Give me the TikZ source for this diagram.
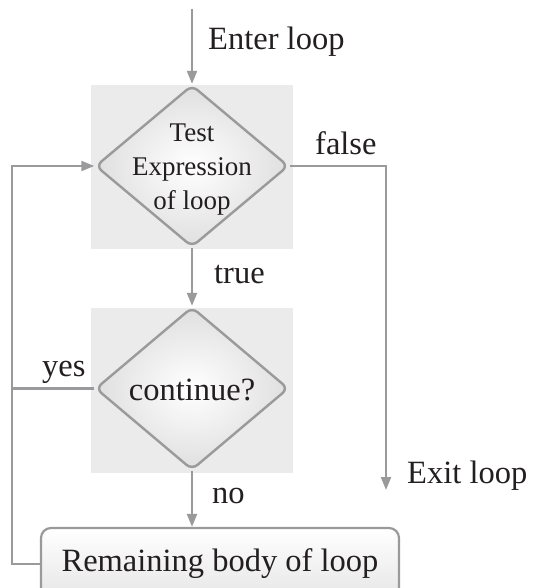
\documentclass[tikz,border=0pt]{standalone}
\usepackage{fontspec}
\setmainfont{Liberation Serif}
\usetikzlibrary{shapes.geometric,arrows.meta}
\definecolor{linegray}{HTML}{9A9A9C}
\definecolor{bggray}{HTML}{EBEBEB}
\definecolor{txt}{HTML}{231F20}
\begin{document}
\begin{tikzpicture}[x=1pt,y=-1pt,
  conn/.style={draw=linegray,line width=2.2pt},
  arr/.style={conn,-{Triangle[length=13pt,width=10pt]}},
  bgbox/.style={fill=bggray,draw=none,minimum width=202pt,minimum height=164pt,inner sep=0pt},
  dia/.style={diamond,draw=linegray,line width=2.4pt,rounded corners=7pt,inner sep=0pt,
    minimum width=193pt,minimum height=162pt,inner color=white,outer color=gray!25},
  lbl/.style={text=txt,font=\fontsize{32.5}{38}\selectfont,inner sep=0pt},
  dtext/.style={text=txt,font=\fontsize{27}{34}\selectfont,inner sep=0pt,align=center},
  bodybox/.style={rectangle,draw=linegray,line width=2.2pt,rounded corners=10pt,
    top color=white,bottom color=gray!20,minimum width=358pt,minimum height=72pt,
    text=txt,font=\fontsize{32.5}{38}\selectfont,inner sep=0pt}
]
\useasboundingbox (0,0) rectangle (535,588);
\clip (0,0) rectangle (535,588);

% backgrounds
\node[bgbox] (bg1) at (192,167) {};
\node[bgbox,minimum height=165pt] (bg2) at (192,390.5) {};

% shapes
\node[dia] (d1) at (192,166) {};
\node[dtext] (t1) at (192,170) {Test\\Expression\\of loop};
\node[dia,minimum height=163pt] (d2) at (192,388.5) {};
\node[lbl,anchor=base] (t2) at (192,400) {continue?};
\node[bodybox] (box) at (220,564) {Remaining body of loop};

% coordinates
\coordinate (start) at (192,9);
\coordinate (exitpt) at (386,490);
\coordinate (lx) at (12,0);

% connectors
\draw[arr] (start) -- (d1.north);
\draw[arr] (d1.south) -- (d2.north);
\draw[arr] (d2.south) -- (d2.south |- box.north);
\draw[arr] (d1.east) -| (exitpt);
\draw[conn] (d2.west) -- (d2.west -| lx);
\draw[arr] (box.west) -| (d1.west -| lx) -- (d1.west);

% labels
\node[lbl,anchor=base west] (enter) at (208,50) {Enter loop};
\node[lbl,anchor=base west] (false) at (315,154) {false};
\node[lbl,anchor=base west] (true) at (214,283) {true};
\node[lbl,anchor=base west] (yes) at (42,376) {yes};
\node[lbl,anchor=base west] (no) at (212,503) {no};
\node[lbl,anchor=base west] (exit) at (407,483) {Exit loop};
\end{tikzpicture}
\end{document}
